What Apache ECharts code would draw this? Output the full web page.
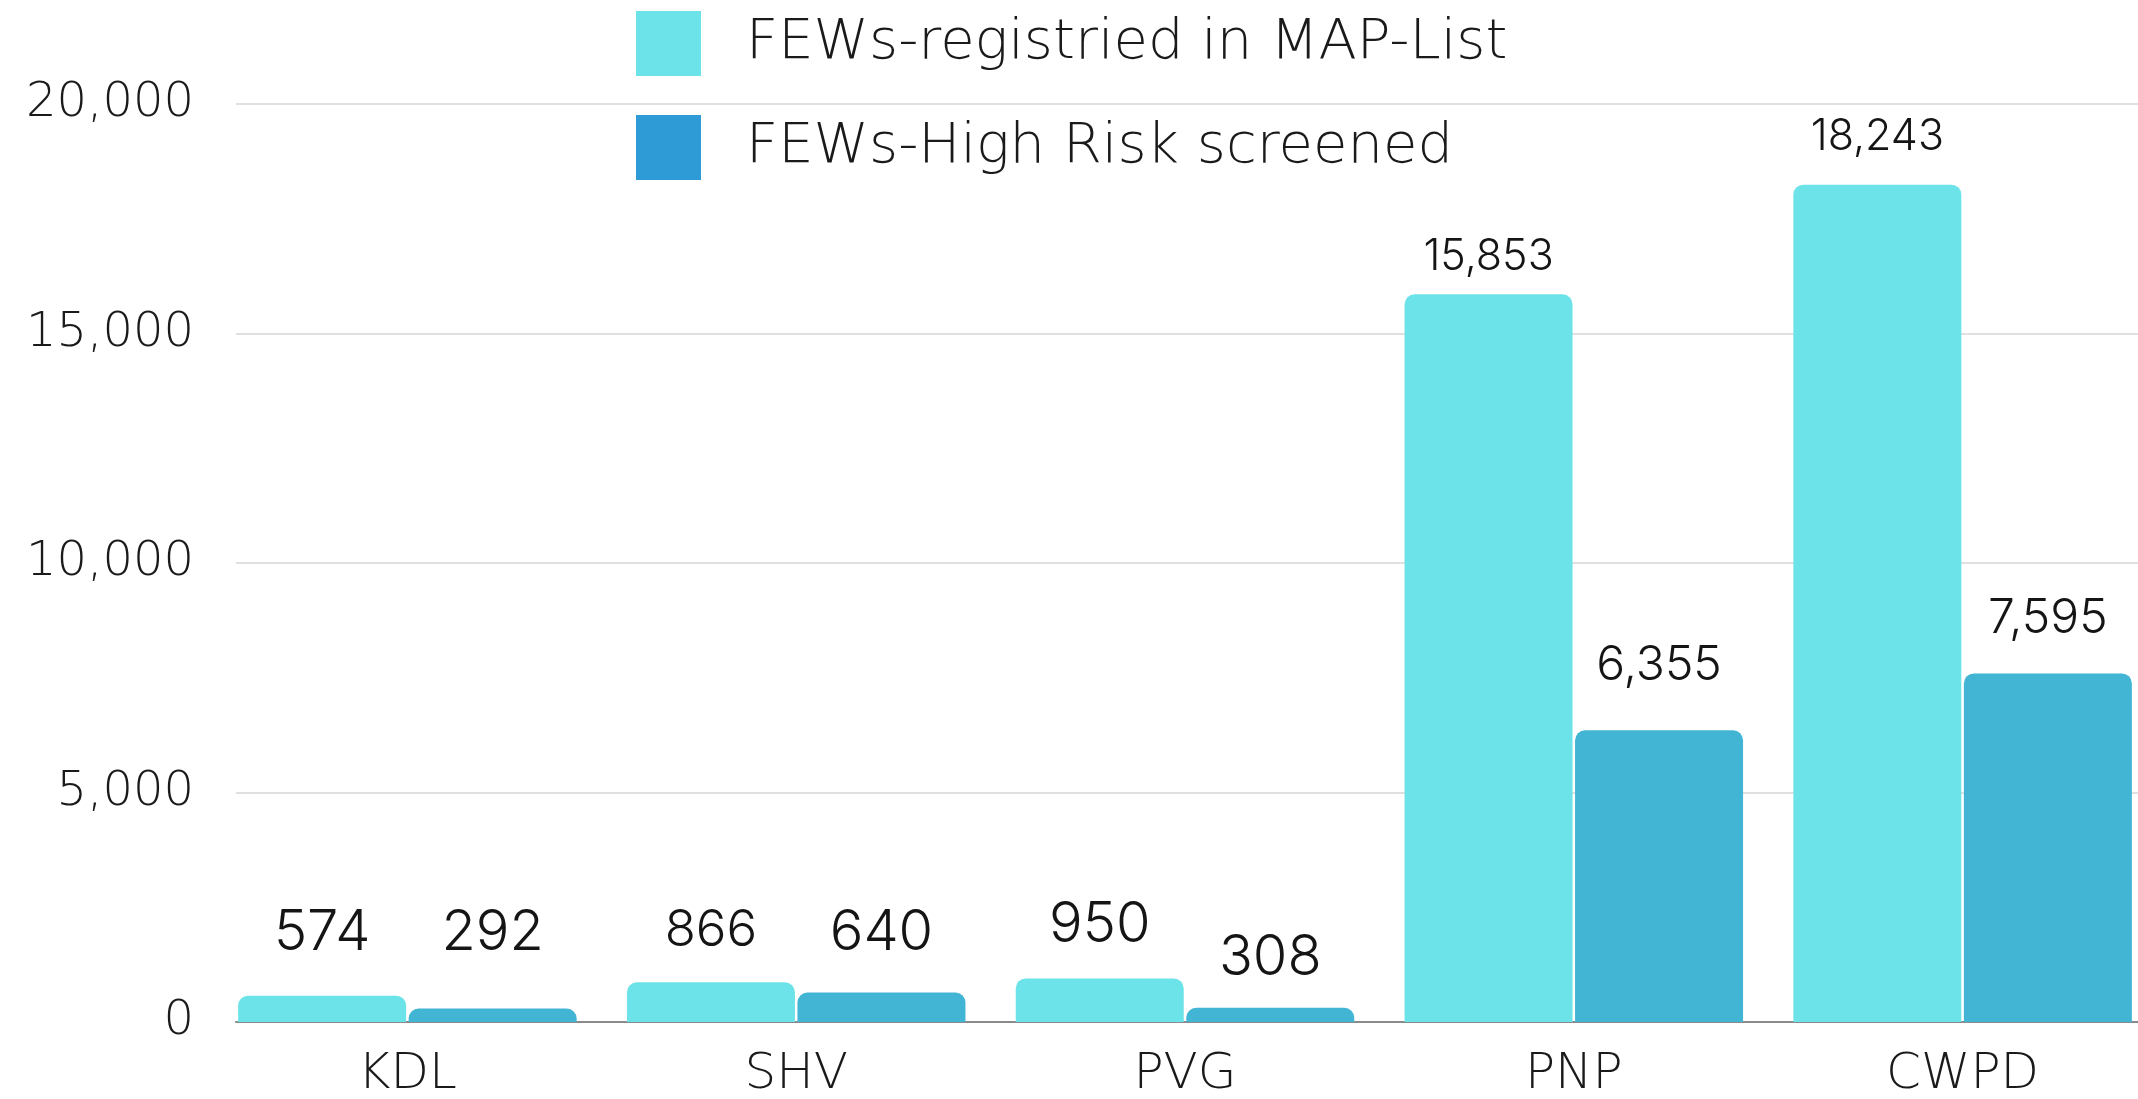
<!DOCTYPE html>
<html>
<head>
<meta charset="utf-8">
<script src="https://cdn.jsdelivr.net/npm/echarts@6/dist/echarts.min.js"></script>
<style>
html,body{margin:0;padding:0;background:#fff;}
#chart{width:2138px;height:1099px;}
</style>
</head>
<body>
<div id="chart"></div>
<script>
// ---- data ----
const categories = ['KDL', 'SHV', 'PVG', 'PNP', 'CWPD'];
const seriesNames = ['FEWs-registried in MAP-List', 'FEWs-High Risk screened'];
const registered = [574, 866, 950, 15853, 18243];
const highRisk = [292, 640, 308, 6355, 7595];
const yMin = 0, yMax = 20000, yInterval = 5000;

// ---- label styling (not data) ----
const regLabelSize = [56, 51, 56, 43, 43];
const hrLabelSize = [56, 56, 56, 48, 48];
const regLabelDist = [34, 26, 25, 16, 26];
const hrLabelDist = [47, 31, 22, 41, 31];

const FONT = 'Inter, Lato, "Noto Sans", sans-serif';
const WIDE = '"DejaVu Sans", Inter, sans-serif';
const fmt = v => Number(v).toLocaleString('en-US');

function items(values, sizes, dists) {
  return values.map((v, i) => ({
    value: v,
    label: { fontSize: sizes[i], distance: dists[i] }
  }));
}

const chart = echarts.init(document.getElementById('chart'));
chart.setOption({
  animation: false,
  backgroundColor: '#ffffff',
  textStyle: { fontFamily: FONT, fontWeight: 300 },
  legend: {
    orient: 'vertical',
    left: 631,
    top: 6,
    itemWidth: 65,
    itemHeight: 65,
    itemGap: 39,
    icon: 'rect',
    textStyle: { fontFamily: WIDE, fontWeight: 300, fontSize: 56, color: '#1a1a1a', padding: [0, 0, 0, 40] },
    data: [
      { name: seriesNames[0], itemStyle: { color: '#6CE3E8' } },
      { name: seriesNames[1], itemStyle: { color: '#2E9AD6' } }
    ]
  },
  grid: [
    { left: 236, right: 0, top: 104, bottom: 77, outerBoundsMode: 'none', containLabel: false },
    { left: 213, width: 1944, top: 104, bottom: 77, outerBoundsMode: 'none', containLabel: false }
  ],
  xAxis: [
    {
      gridIndex: 0, type: 'value', min: 0, max: 1,
      axisLine: { show: true, lineStyle: { color: '#8a8a8a', width: 2 } },
      axisTick: { show: false }, axisLabel: { show: false }, splitLine: { show: false }
    },
    {
      gridIndex: 1, type: 'category', data: categories,
      axisLine: { show: false }, axisTick: { show: false },
      axisLabel: { fontFamily: WIDE, fontWeight: 300, fontSize: 50, color: '#1a1a1a', margin: 28 }
    }
  ],
  yAxis: [
    {
      gridIndex: 0, type: 'value', min: yMin, max: yMax, interval: yInterval,
      axisLine: { show: false }, axisTick: { show: false },
      axisLabel: { fontFamily: WIDE, fontWeight: 300, fontSize: 48, color: '#1a1a1a', margin: 42, formatter: fmt },
      splitLine: { show: true, lineStyle: { color: '#E0E0E0', width: 2 } }
    },
    {
      gridIndex: 1, type: 'value', min: yMin, max: yMax, interval: yInterval, show: false,
      splitLine: { show: false }
    }
  ],
  series: [
    {
      name: seriesNames[0], type: 'bar', xAxisIndex: 1, yAxisIndex: 1,
      barWidth: 168, barGap: '1.5%',
      itemStyle: { color: '#6CE3E8', borderRadius: [10, 10, 0, 0] },
      label: { show: true, position: 'top', color: '#151515', fontFamily: FONT, fontWeight: 300, formatter: p => fmt(p.value) },
      data: items(registered, regLabelSize, regLabelDist)
    },
    {
      name: seriesNames[1], type: 'bar', xAxisIndex: 1, yAxisIndex: 1,
      barWidth: 168, barGap: '1.5%',
      itemStyle: { color: '#42B5D4', borderRadius: [10, 10, 0, 0] },
      label: { show: true, position: 'top', color: '#151515', fontFamily: FONT, fontWeight: 300, formatter: p => fmt(p.value) },
      data: items(highRisk, hrLabelSize, hrLabelDist)
    }
  ]
});
</script>
</body>
</html>
